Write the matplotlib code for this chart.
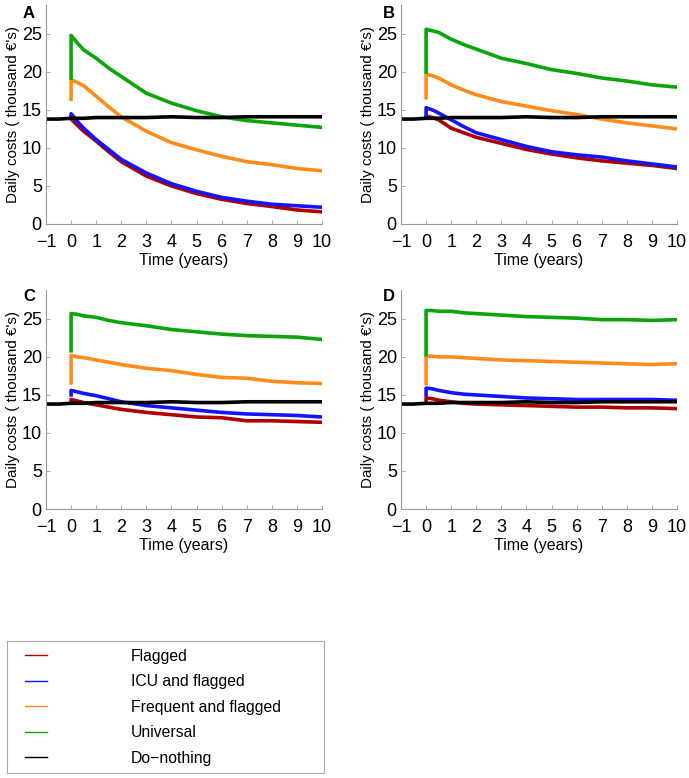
import matplotlib
matplotlib.use("Agg")
import matplotlib.pyplot as plt
from matplotlib.lines import Line2D
from matplotlib.patches import Rectangle

plt.rcParams['font.family'] = ['Liberation Sans', 'DejaVu Sans']

# ---------------- data ----------------
t_strat = [0, 0, 0.25, 0.5, 1, 1.5, 2, 3, 4, 5, 6, 7, 8, 9, 10]
t_none = [-1, -0.5, 0, 0.5, 1, 2, 3, 4, 5, 6, 7, 8, 9, 10]
none_vals = [13.8, 13.8, 13.9, 13.9, 14.0, 14.0, 14.0, 14.1, 14.0, 14.0, 14.1, 14.1, 14.1, 14.1]

A_green = [19.2, 24.8, 23.8, 22.9, 21.8, 20.5, 19.4, 17.2, 15.9, 14.9, 14.1, 13.6, 13.3, 13.0, 12.7]
A_orange = [16.4, 19.0, 18.6, 18.2, 16.8, 15.4, 14.1, 12.2, 10.7, 9.75, 8.9, 8.2, 7.8, 7.3, 7.0]
A_blue = [14.0, 14.5, 13.5, 12.6, 11.1, 9.8, 8.5, 6.7, 5.3, 4.3, 3.5, 3.0, 2.6, 2.4, 2.2]
A_red = [13.9, 13.8, 13.0, 12.2, 10.9, 9.5, 8.2, 6.3, 5.0, 4.0, 3.25, 2.7, 2.3, 1.85, 1.6]

B_green = [20.0, 25.6, 25.4, 25.2, 24.3, 23.6, 23.0, 21.8, 21.1, 20.3, 19.8, 19.2, 18.8, 18.3, 18.0]
B_orange = [16.6, 19.7, 19.5, 19.2, 18.3, 17.6, 17.0, 16.1, 15.5, 14.9, 14.4, 13.8, 13.3, 12.9, 12.5]
B_blue = [14.0, 15.3, 15.0, 14.6, 13.7, 12.8, 12.0, 11.1, 10.2, 9.5, 9.1, 8.8, 8.3, 7.9, 7.5]
B_red = [14.0, 14.2, 14.0, 13.7, 12.6, 12.0, 11.4, 10.6, 9.8, 9.2, 8.7, 8.3, 8.0, 7.7, 7.3]

C_green = [20.8, 25.7, 25.6, 25.4, 25.2, 24.8, 24.5, 24.1, 23.6, 23.3, 23.0, 22.8, 22.7, 22.6, 22.3]
C_orange = [16.6, 20.2, 20.0, 19.9, 19.6, 19.3, 19.0, 18.5, 18.2, 17.7, 17.3, 17.2, 16.8, 16.6, 16.5]
C_blue = [15.0, 15.6, 15.4, 15.2, 14.9, 14.5, 14.1, 13.6, 13.3, 13.0, 12.7, 12.5, 12.4, 12.3, 12.1]
C_red = [14.0, 14.4, 14.2, 14.0, 13.7, 13.4, 13.1, 12.7, 12.4, 12.1, 12.0, 11.6, 11.6, 11.5, 11.4]

D_green = [20.3, 26.1, 26.1, 26.0, 26.0, 25.8, 25.7, 25.5, 25.3, 25.2, 25.1, 24.9, 24.9, 24.8, 24.9]
D_orange = [16.5, 20.1, 20.1, 20.0, 20.0, 19.9, 19.8, 19.6, 19.5, 19.4, 19.3, 19.2, 19.1, 19.0, 19.1]
D_blue = [15.0, 15.9, 15.8, 15.6, 15.3, 15.1, 15.0, 14.8, 14.6, 14.5, 14.4, 14.4, 14.4, 14.4, 14.3]
D_red = [14.0, 14.6, 14.5, 14.3, 14.1, 13.9, 13.8, 13.7, 13.6, 13.5, 13.4, 13.4, 13.3, 13.3, 13.2]

panel_names = ["A", "B", "C", "D"]
labels = ["Flagged", "ICU and flagged", "Frequent and flagged", "Universal", "Do\u2212nothing"]
colors = ["#b00000", "#1414ff", "#ff8c1a", "#0aa50a", "#000000"]
x_ticks = list(range(-1, 11))
y_ticks = [0, 5, 10, 15, 20, 25]

panels = {
    "A": (A_red, A_blue, A_orange, A_green),
    "B": (B_red, B_blue, B_orange, B_green),
    "C": (C_red, C_blue, C_orange, C_green),
    "D": (D_red, D_blue, D_orange, D_green),
}

# ---------------- figure ----------------
W, H = 689, 778
fig = plt.figure(figsize=(W / 100, H / 100), dpi=100)

def frac(left, top, right, bottom):
    return [left / W, 1 - bottom / H, (right - left) / W, (bottom - top) / H]

positions = {
    "A": frac(46, 5, 322, 224),
    "B": frac(401, 5, 677, 224),
    "C": frac(46, 290, 322, 509),
    "D": frac(401, 290, 677, 509),
}
label_pos = {"A": (29, 14), "B": (389, 14), "C": (29, 297), "D": (389, 297)}

gray = "#999999"
for name in panel_names:
    ax = fig.add_axes(positions[name])
    red, blue, orange, green = panels[name]
    lw = 2.6
    ax.plot(t_strat, red, color=colors[0], lw=lw)
    ax.plot(t_strat, blue, color=colors[1], lw=lw)
    ax.plot(t_strat, orange, color=colors[2], lw=lw)
    ax.plot(t_strat, green, color=colors[3], lw=lw)
    ax.plot(t_none, none_vals, color=colors[4], lw=lw)
    ax.set_xlim(-1, 10)
    ax.set_ylim(0, 28.8)
    ax.set_xticks(x_ticks)
    ax.set_yticks(y_ticks)
    for s in ["top", "right"]:
        ax.spines[s].set_visible(False)
    for s in ["left", "bottom"]:
        ax.spines[s].set_color(gray)
        ax.spines[s].set_linewidth(0.8)
    ax.tick_params(direction="in", length=3, width=0.6, color=gray,
                   labelsize=13, pad=3)
    ax.tick_params(axis="x", pad=7)
    ax.set_xlabel("Time (years)", fontsize=11.5, labelpad=1.5)
    ax.set_ylabel("Daily costs ( thousand \u20ac's)", fontsize=10.9, labelpad=1)
    ax.patch.set_alpha(0)
    x, y = label_pos[name]
    fig.text(x / W, 1 - y / H, name, fontsize=12, fontweight="bold",
             ha="center", va="center")

# ---------------- legend ----------------
handles = [Line2D([], [], color=c, lw=1.0) for c in colors]
fig.legend(handles, labels, loc="upper left",
           bbox_to_anchor=(25 / W, 1 - 648.5 / H),
           frameon=False, fontsize=11.3, borderpad=0, borderaxespad=0,
           handlelength=1.4, handletextpad=5.35, labelspacing=0.67)
fig.patches.append(Rectangle((7 / W, 1 - 773 / H), (324 - 7) / W, (773 - 641) / H,
                             transform=fig.transFigure, fill=False,
                             edgecolor="#aaaaaa", lw=0.8))

fig.savefig("out.png", dpi=100)
